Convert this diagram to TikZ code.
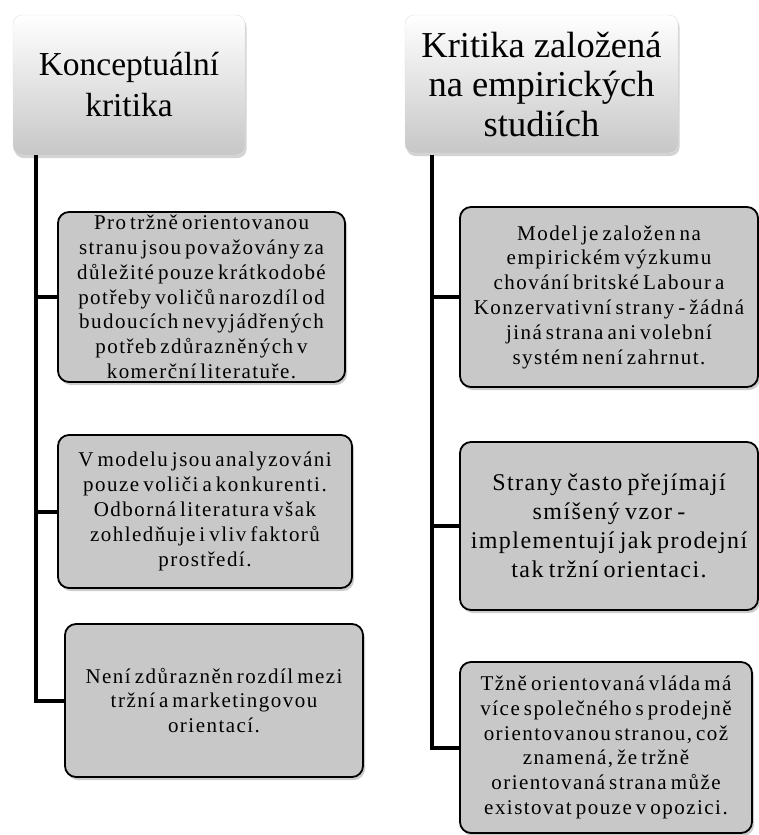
\documentclass[tikz,border=0pt]{standalone}
\usepackage{fontspec}
\setmainfont{Liberation Serif}
\newfontfamily\boxfont[LetterSpace=7,WordSpace=0.6]{Liberation Serif}
\newfontfamily\bigboxfont[LetterSpace=6,WordSpace=0.7]{Liberation Serif}
\usetikzlibrary{shadows}
\definecolor{boxgray}{HTML}{C8C8C8}
\tikzset{
  headbox/.style={rounded corners=9pt, top color=white, bottom color=black!22, draw=black!12,
    align=center, inner sep=0pt,
    drop shadow={opacity=0.35, shadow xshift=1.5pt, shadow yshift=-3pt}},
  itembox/.style={rounded corners=11pt, fill=boxgray, draw=black, line width=1.8pt,
    align=center, inner sep=0pt, font=\boxfont\fontsize{21}{24.8}\selectfont,
    drop shadow={opacity=0.4, shadow xshift=2pt, shadow yshift=-3pt}},
  conn/.style={line width=4pt, draw=black}
}
\begin{document}
\begin{tikzpicture}[x=1pt,y=-1pt]
\useasboundingbox (0,0) rectangle (759,835);
% headers
\node[headbox, minimum width=232pt, minimum height=140pt, font=\fontsize{33.5}{41}\selectfont] (h1) at (129,85) {Konceptuální\\kritika};
\node[headbox, minimum width=273pt, minimum height=138pt, font=\fontsize{36.5}{39.5}\selectfont] (h2) at (541.5,84) {Kritika založená\\na empirických\\studiích};
% left boxes
\node[itembox, minimum width=287pt, minimum height=170pt] (b1) at (201.5,297)
  {Pro tržně orientovanou\\stranu jsou považovány za\\důležité pouze krátkodobé\\potřeby voličů narozdíl od\\budoucích nevyjádřených\\potřeb zdůrazněných v\\komerční literatuře.};
\node[itembox, minimum width=294pt, minimum height=153pt] (b2) at (205,511.5)
  {V modelu jsou analyzováni\\pouze voliči a konkurenti.\\Odborná literatura však\\zohledňuje i vliv faktorů\\prostředí.};
\node[itembox, minimum width=298pt, minimum height=153pt] (b3) at (214,700.5)
  {Není zdůrazněn rozdíl mezi\\tržní a marketingovou\\orientací.};
% right boxes
\node[itembox, minimum width=298pt, minimum height=180pt] (r1) at (609,297)
  {Model je založen na\\empirickém výzkumu\\chování britské Labour a\\Konzervativní strany - žádná\\jiná strana ani volební\\systém není zahrnut.};
\node[itembox, minimum width=298pt, minimum height=168pt, font=\bigboxfont\fontsize{24}{29}\selectfont] (r2) at (609,526)
  {Strany často přejímají\\smíšený vzor -\\implementují jak prodejní\\tak tržní orientaci.};
\node[itembox, minimum width=292pt, minimum height=171pt] (r3) at (606,747.5)
  {Tžně orientovaná vláda má\\více společného s prodejně\\orientovanou stranou, což\\znamená, že tržně\\orientovaná strana může\\existovat pouze v opozici.};
% connectors
\coordinate (l0) at (36,155);
\coordinate (r0) at (432,155);
\draw[conn] (l0) |- (b3.west);
\draw[conn] (l0 |- b1.west) -- (b1.west);
\draw[conn] (l0 |- b2.west) -- (b2.west);
\draw[conn] (r0) |- (r3.west);
\draw[conn] (r0 |- r1.west) -- (r1.west);
\draw[conn] (r0 |- r2.west) -- (r2.west);
\end{tikzpicture}
\end{document}
